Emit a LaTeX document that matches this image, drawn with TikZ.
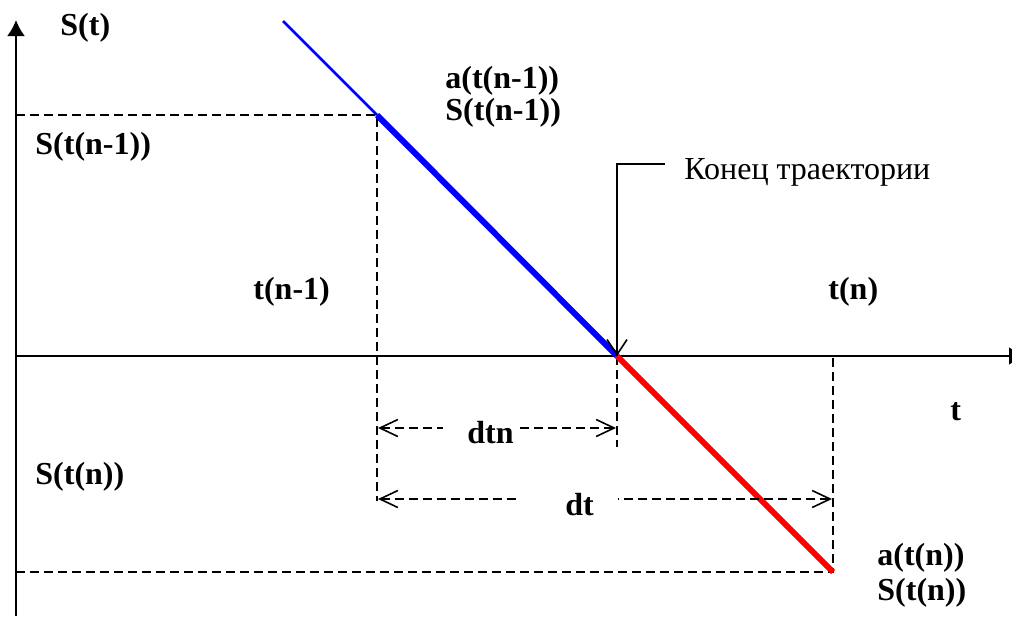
\documentclass[tikz,border=0pt]{standalone}
\usepackage{fontspec}
\setmainfont{Liberation Serif}
\usepackage{tikz}
\usetikzlibrary{arrows.meta}
\definecolor{trajblue}{HTML}{0000FF}
\definecolor{trajred}{HTML}{FF0000}

\begin{document}
\begin{tikzpicture}[x=0.5pt,y=-0.5pt,>=Latex,
 lbl/.style={anchor=base west,inner sep=0pt,font=\fontsize{16}{18}\selectfont\bfseries},
 note/.style={anchor=base west,inner sep=0pt,font=\fontsize{16}{18}\selectfont},
 axis/.style={line width=1.1pt,-{Latex[length=8pt,width=9pt]}},
 guide/.style={line width=1pt,dash pattern=on 4.5pt off 2.5pt},
 dimline/.style={guide,{Straight Barb[length=9pt,width=8.5pt,line width=0.8pt]}-},
 callout/.style={line width=0.9pt,-{Straight Barb[length=7.5pt,width=10pt,line width=0.8pt]}}]
 \useasboundingbox (0,0) rectangle (1012,616);
 \clip (0,0) rectangle (1012,616);
 % points of the trajectory
 \coordinate (p0) at (283,21);
 \coordinate (p1) at (377,115);
 \coordinate (p2) at (617,356);
 \coordinate (p3) at (833,572);
 % axes
 \coordinate (ybot) at (16,616);
 \coordinate (ytop) at (16,20);
 \coordinate (xleft) at (16,356);
 \coordinate (xright) at (1025,356);
 \draw[axis] (ybot)--(ytop);
 \draw[axis] (xleft)--(xright);
 % guide lines
 \coordinate (s1) at (16,115);
 \coordinate (s2) at (16,572);
 \coordinate (v1) at (377,501);
 \coordinate (v2) at (617,447);
 \coordinate (v3) at (833,356);
 \draw[guide] (s1)--(p1)--(v1);
 \draw[guide] (s2)--(p3)--(v3);
 \draw[guide] (p2)--(v2);
 % trajectory
 \draw[trajblue,line width=1.3pt] (p0)--(p1);
 \draw[trajblue,line width=3pt] (p1)--(p2);
 \draw[trajred,line width=3pt] (p2)--(p3);
 % dimensions
 \coordinate (dtnl) at (378,428);
 \coordinate (dtna) at (443,428);
 \coordinate (dtnb) at (520,428);
 \coordinate (dtnr) at (616,428);
 \coordinate (dtl) at (378,499);
 \coordinate (dta) at (520,499);
 \coordinate (dtb) at (618,499);
 \coordinate (dtr) at (832,499);
 \draw[dimline] (dtnl)--(dtna);
 \draw[dimline] (dtnr)--(dtnb);
 \draw[dimline] (dtl)--(dta);
 \draw[dimline] (dtr)--(dtb);
 \node[lbl] (dtn) at (467,443) {dtn};
 \node[lbl] (dt) at (565,515) {dt};
 % end of trajectory
 \coordinate (cend) at (665,164);
 \coordinate (cknee) at (617,164);
 \draw[callout] (cend)--(cknee)--(p2);
 \node[note] (endtxt) at (684,179) {Конец траектории};
 % labels
 \node[lbl] (st) at (60,35) {S(t)};
 \node[lbl] (an1) at (445,88) {a(t(n-1))};
 \node[lbl] (sn1) at (445,120) {S(t(n-1))};
 \node[lbl] (sy1) at (35,154) {S(t(n-1))};
 \node[lbl] (tn1) at (253,299) {t(n-1)};
 \node[lbl] (tn) at (828,299) {t(n)};
 \node[lbl] (tax) at (950,420) {t};
 \node[lbl] (sy2) at (35,484) {S(t(n))};
 \node[lbl] (an) at (877,565) {a(t(n))};
 \node[lbl] (sn) at (877,600) {S(t(n))};
\end{tikzpicture}
\end{document}
